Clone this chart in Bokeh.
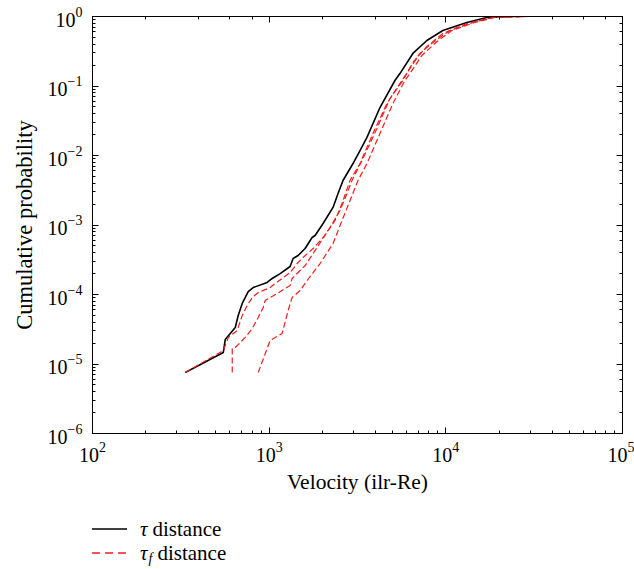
from bokeh.plotting import figure
from bokeh.models import LogAxis, LogTicker, Div, CustomJSTickFormatter
from bokeh.layouts import column
from bokeh.embed import file_html
from bokeh.resources import INLINE

# ---- data ----
tau_v = [335, 550, 564, 643, 668, 704, 761, 812, 974, 1040, 1154, 1314, 1366, 1458, 1597,
         1750, 1820, 2019, 2299, 2454, 2618, 2983, 3267, 3578, 4238, 5151, 5497, 6510, 7811,
         9618, 13140, 17040, 22990]
tau_p = [7.55e-6, 1.46e-5, 2.25e-5, 3.35e-5, 4.99e-5, 7.43e-5, 1.10e-4, 1.26e-4, 1.49e-4,
         1.70e-4, 2.00e-4, 2.53e-4, 3.30e-4, 3.64e-4, 4.59e-4, 6.61e-4, 7.06e-4, 1.05e-3,
         1.79e-3, 2.84e-3, 4.37e-3, 7.67e-3, 1.18e-2, 1.82e-2, 4.90e-2, 0.120, 0.151, 0.294,
         0.452, 0.629, 0.820, 0.967, 1.0]

tauf1_v = [335, 550, 587, 659, 704, 751, 802, 867, 1013, 1081, 1314, 1440, 1556, 1773, 2019,
           2360, 2584, 2869, 3267, 3868, 4642, 5641, 7131, 8445, 10535, 14210, 18430, 28690]
tauf1_p = [7.55e-6, 1.56e-5, 2.41e-5, 3.03e-5, 4.99e-5, 6.95e-5, 9.05e-5, 1.07e-4, 1.26e-4,
           1.44e-4, 2.07e-4, 2.79e-4, 3.41e-4, 4.59e-4, 6.61e-4, 1.16e-3, 2.04e-3, 4.37e-3,
           7.67e-3, 2.07e-2, 5.60e-2, 0.120, 0.294, 0.423, 0.629, 0.820, 0.967, 1.0]

tauf2_v = [618, 618, 643, 732, 802, 867, 925, 949, 1110, 1314, 1349, 1597, 1867, 2212, 2518,
           2758, 2944, 3353, 4075, 4826, 5716, 6510, 7811, 9618, 13140, 18430, 26190]
tauf2_p = [7.55e-6, 1.67e-5, 1.73e-5, 2.41e-5, 3.24e-5, 4.67e-5, 6.50e-5, 8.20e-5, 1.03e-4,
           1.35e-4, 1.70e-4, 2.61e-4, 4.75e-4, 9.21e-4, 1.62e-3, 2.84e-3, 4.37e-3, 8.47e-3,
           2.45e-2, 6.61e-2, 0.120, 0.218, 0.370, 0.569, 0.793, 0.967, 1.0]

tauf3_v = [867, 1013, 1184, 1281, 1349, 1497, 1639, 1942, 2299, 2584, 2869, 3183, 3578, 4238,
           5019, 5866, 6260, 7318, 8780, 10810, 14580, 18910, 28690]
tauf3_p = [7.55e-6, 2.18e-5, 2.75e-5, 5.89e-5, 9.05e-5, 1.14e-4, 1.59e-4, 2.79e-4, 5.42e-4,
           1.16e-3, 2.25e-3, 4.37e-3, 7.67e-3, 2.07e-2, 5.60e-2, 0.120, 0.151, 0.275, 0.423,
           0.629, 0.820, 0.967, 1.0]

x_label = "Velocity (ilr-Re)"
y_label = "Cumulative probability"

FONT = "Liberation Serif"
RED = "#f01e1e"

p = figure(width=634, height=500, x_axis_type="log", y_axis_type="log",
           x_range=(1e2, 1e5), y_range=(1e-6, 1),
           output_backend="svg", toolbar_location=None,
           min_border_left=92, min_border_right=12, min_border_top=16, min_border_bottom=67)
p.grid.visible = False
p.outline_line_color = "black"
p.outline_line_width = 1
p.background_fill_color = "white"
p.border_fill_color = "white"

# mirrored axes (ticks only, empty labels)
blank = CustomJSTickFormatter(code="return ' ';")
p.add_layout(LogAxis(ticker=LogTicker(), formatter=blank, major_label_standoff=0,
                     major_label_text_font_size="1px"), "above")
p.add_layout(LogAxis(ticker=LogTicker(), formatter=blank, major_label_standoff=0,
                     major_label_text_font_size="1px"), "right")

for ax in p.axis:
    ax.major_tick_in = 6
    ax.major_tick_out = 0
    ax.minor_tick_in = 3
    ax.minor_tick_out = 0
    ax.axis_line_color = "black"
    ax.major_tick_line_color = "black"
    ax.minor_tick_line_color = "black"

for ax in p.below + p.left:
    ax.major_label_text_font = FONT
    ax.major_label_text_font_size = "20px"
    ax.major_label_text_color = "black"
    ax.axis_label_text_font = FONT
    ax.axis_label_text_font_style = "normal"
    ax.axis_label_text_color = "black"

p.below[0].axis_label = x_label
p.below[0].axis_label_text_font_size = "21.5px"
p.below[0].major_label_standoff = 8
p.below[0].axis_label_standoff = 5
p.left[0].axis_label = y_label
p.left[0].axis_label_text_font_size = "22.5px"
p.left[0].major_label_standoff = 10
p.left[0].axis_label_standoff = 8

p.line(tau_v, tau_p, line_color="black", line_width=1.6)
for v, pr in [(tauf1_v, tauf1_p), (tauf2_v, tauf2_p), (tauf3_v, tauf3_p)]:
    p.line(v, pr, line_color=RED, line_width=1.2, line_dash="6 3")

row_style = "height:24px;display:flex;align-items:center;"
legend_html = f"""
<div style="font-family:'{FONT}';font-size:21px;color:black;padding-top:17px;padding-left:92px;">
  <div style="{row_style}">
    <svg width="35" height="6"><line x1="0" y1="3" x2="35" y2="3" stroke="black" stroke-width="1.5"/></svg>
    <span style="margin-left:13px;font-style:italic;">τ</span>
    <span style="margin-left:5px;">distance</span>
  </div>
  <div style="{row_style}">
    <svg width="35" height="6"><line x1="0" y1="3" x2="35" y2="3" stroke="{RED}" stroke-width="1.3" stroke-dasharray="8 5"/></svg>
    <span style="margin-left:13px;font-style:italic;">τ</span>
    <span style="margin-left:1px;font-style:italic;font-size:14px;position:relative;top:6px;">f</span>
    <span style="margin-left:5px;">distance</span>
  </div>
</div>
"""
legend = Div(text=legend_html, width=634, height=69, margin=0)

layout = column(p, legend, spacing=0)
open("out.html", "w").write(file_html(layout, INLINE))
